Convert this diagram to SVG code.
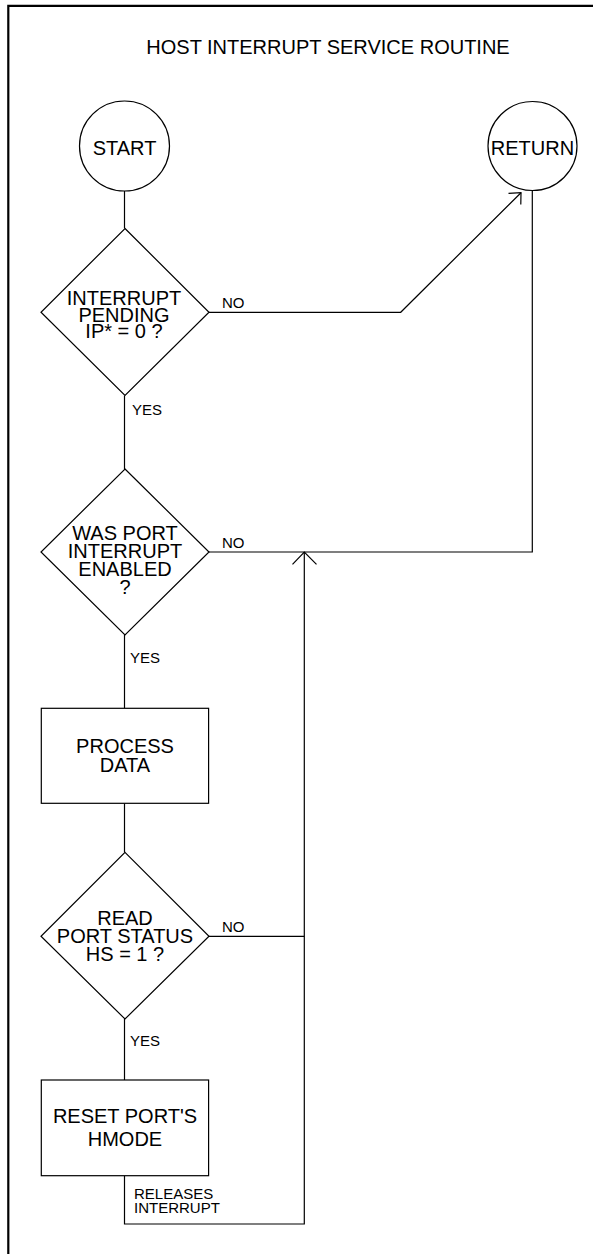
<svg xmlns="http://www.w3.org/2000/svg" width="600" height="1254" viewBox="0 0 600 1254">
<style>
.shape{fill:#fff;stroke:#000;stroke-width:1.2}
.conn{fill:none;stroke:#000;stroke-width:1.2}
.t{font-family:"Liberation Sans",Arial,sans-serif;font-size:20px;fill:#000;text-anchor:middle}
.lbl{font-family:"Liberation Sans",Arial,sans-serif;font-size:15px;fill:#000}
.title{font-family:"Liberation Sans",Arial,sans-serif;font-size:20px;fill:#000;text-anchor:middle}
</style>
<rect width="600" height="1254" fill="#fff"/>
<path d="M8.3 1254 V5.8 H593" fill="none" stroke="#000" stroke-width="2.2"/>
<text class="title" x="328" y="53.5">HOST INTERRUPT SERVICE ROUTINE</text>
<g id="connectors">
<path class="conn" d="M124.5 191 V228.5"/>
<path class="conn" d="M124.5 395.5 V469"/>
<path class="conn" d="M124.5 635 V708.3"/>
<path class="conn" d="M124.5 803.3 V852.3"/>
<path class="conn" d="M124.5 1019 V1080"/>
<path class="conn" d="M209 312.3 H400.7 L521 192.7"/>
<path class="conn" d="M508.5 193.3 L521 192.7 L520.8 204.5"/>
<path class="conn" d="M532.3 191 V552 H209"/>
<path class="conn" d="M209 936.3 H304.3"/>
<path class="conn" d="M124.5 1175.7 V1224 H304.3 V552"/>
<path class="conn" d="M292.5 564.3 L304.3 552 L316.5 564.3"/>
<text class="lbl" x="222" y="308.3">NO</text>
<text class="lbl" x="132" y="415">YES</text>
<text class="lbl" x="222" y="548.3">NO</text>
<text class="lbl" x="130" y="662.7">YES</text>
<text class="lbl" x="222" y="932.3">NO</text>
<text class="lbl" x="130" y="1045.7">YES</text>
<text class="lbl" x="134" y="1199">RELEASES</text>
<text class="lbl" x="134" y="1213">INTERRUPT</text>
</g>
<g id="start">
<circle class="shape" cx="124.5" cy="146" r="45"/>
<text class="t" x="124.5" y="155">START</text>
</g>
<g id="return">
<circle class="shape" cx="532.5" cy="146" r="44.5"/>
<text class="t" x="532.5" y="155">RETURN</text>
</g>
<g id="interrupt-pending">
<polygon class="shape" points="125,228.5 209,312.3 125,395.5 41,312.3"/>
<text class="t" x="124" y="305">INTERRUPT</text>
<text class="t" x="124" y="321.7">PENDING</text>
<text class="t" x="124" y="338.3">IP* = 0 ?</text>
</g>
<g id="port-enabled">
<polygon class="shape" points="125,469 209,552 125,635 41,552"/>
<text class="t" x="125" y="540">WAS PORT</text>
<text class="t" x="125" y="558.3">INTERRUPT</text>
<text class="t" x="125" y="576">ENABLED</text>
<text class="t" x="125" y="594">?</text>
</g>
<g id="process-data">
<rect class="shape" x="41.3" y="708.3" width="167.3" height="95"/>
<text class="t" x="125" y="753.3">PROCESS</text>
<text class="t" x="125" y="771.7">DATA</text>
</g>
<g id="port-status">
<polygon class="shape" points="125,852.3 209,936.3 125,1019 41,936.3"/>
<text class="t" x="125" y="924.7">READ</text>
<text class="t" x="125" y="943">PORT STATUS</text>
<text class="t" x="125" y="960.7">HS = 1 ?</text>
</g>
<g id="reset-hmode">
<rect class="shape" x="41.3" y="1080" width="167.3" height="95.7"/>
<text class="t" x="125" y="1123.3">RESET PORT'S</text>
<text class="t" x="125" y="1145.7">HMODE</text>
</g>
</svg>
